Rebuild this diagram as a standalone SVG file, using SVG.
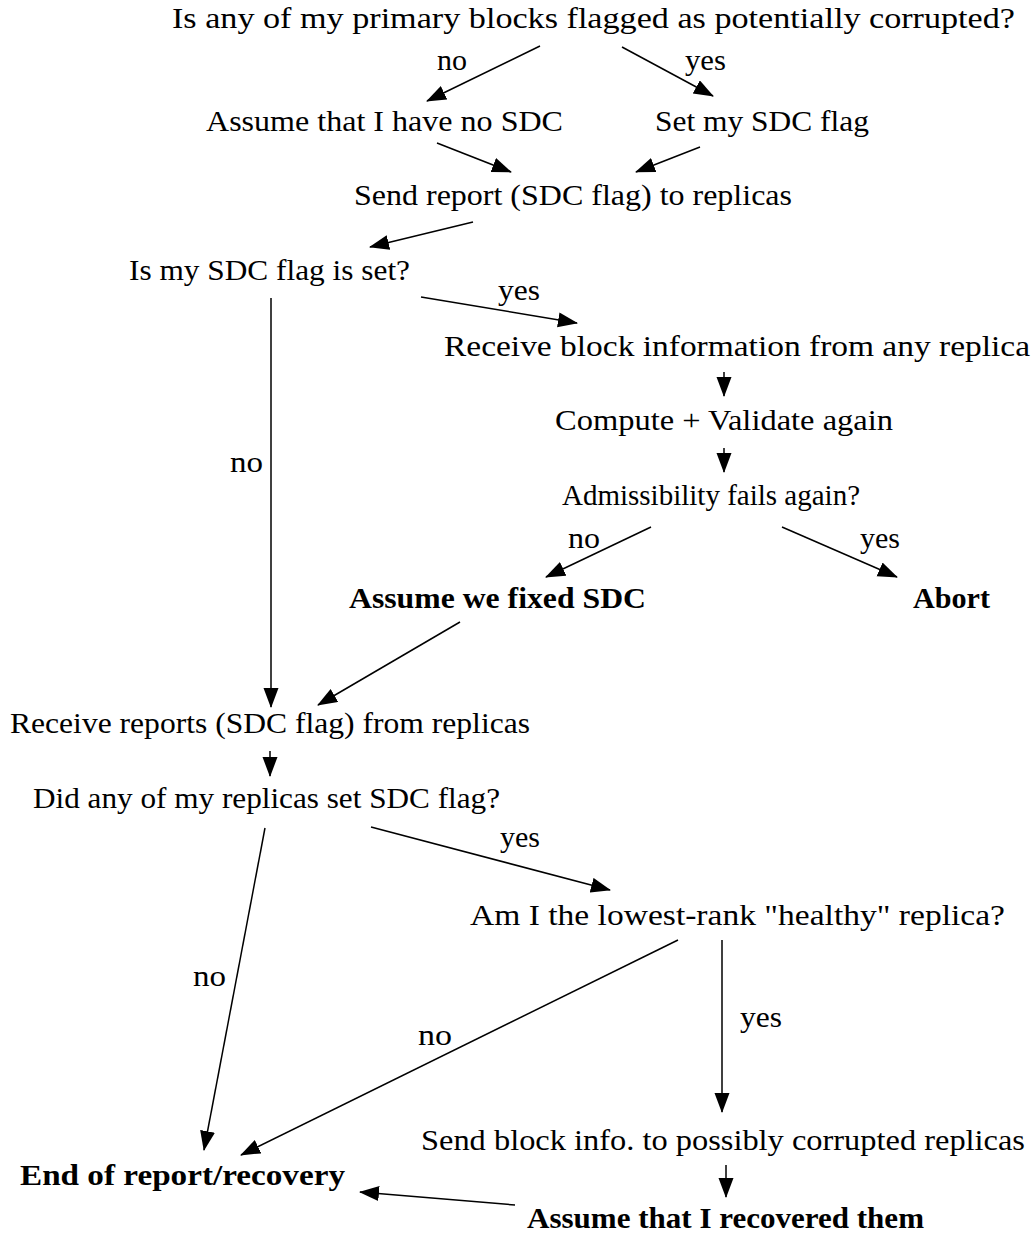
<svg xmlns="http://www.w3.org/2000/svg" width="1032" height="1234" viewBox="0 0 1032 1234">
  <defs>
    <marker id="arrow" markerUnits="userSpaceOnUse" markerWidth="22" markerHeight="16" refX="19" refY="7.5" orient="auto">
      <path d="M0,0 L20,7.5 L0,15 z" fill="#000"/>
    </marker>
    <style>
      text { font-family: "Liberation Serif", "Times New Roman", serif; font-size: 29px; fill: #000; text-anchor: middle; }
      text.b { font-weight: bold; }
      .edges line { stroke: #000; stroke-width: 1.5; fill: none; marker-end: url(#arrow); }
    </style>
  </defs>
  <rect width="1032" height="1234" fill="#fff"/>

  <!-- connectors -->
  <g class="edges" id="edges">
    <line x1="540" y1="46" x2="427" y2="101"/>
    <line x1="622" y1="47" x2="713" y2="96"/>
    <line x1="437" y1="143" x2="511" y2="172"/>
    <line x1="700" y1="147" x2="636" y2="172"/>
    <line x1="473" y1="222" x2="370" y2="247"/>
    <line x1="421" y1="297" x2="577" y2="323"/>
    <line x1="271" y1="298" x2="271" y2="707"/>
    <line x1="724" y1="372" x2="724" y2="396"/>
    <line x1="724" y1="448" x2="724" y2="472"/>
    <line x1="651" y1="527" x2="546" y2="577"/>
    <line x1="782" y1="527" x2="897" y2="577"/>
    <line x1="460" y1="622" x2="318" y2="705"/>
    <line x1="270" y1="751" x2="270" y2="776"/>
    <line x1="371" y1="827" x2="610" y2="890"/>
    <line x1="265" y1="828" x2="204" y2="1150"/>
    <line x1="678" y1="940" x2="241" y2="1155"/>
    <line x1="722" y1="940" x2="722" y2="1112"/>
    <line x1="726" y1="1165" x2="726" y2="1197"/>
    <line x1="515" y1="1205" x2="360" y2="1192"/>
  </g>

  <!-- edge labels -->
  <g id="edge-labels">
    <text x="452" y="70" textLength="30" lengthAdjust="spacingAndGlyphs">no</text>
    <text x="705.5" y="70" textLength="41" lengthAdjust="spacingAndGlyphs">yes</text>
    <text x="519" y="300" textLength="42" lengthAdjust="spacingAndGlyphs">yes</text>
    <text x="246.5" y="472" textLength="33" lengthAdjust="spacingAndGlyphs">no</text>
    <text x="584" y="548" textLength="32" lengthAdjust="spacingAndGlyphs">no</text>
    <text x="880" y="548" textLength="40" lengthAdjust="spacingAndGlyphs">yes</text>
    <text x="520" y="847" textLength="40" lengthAdjust="spacingAndGlyphs">yes</text>
    <text x="209.5" y="986" textLength="33" lengthAdjust="spacingAndGlyphs">no</text>
    <text x="435" y="1045" textLength="34" lengthAdjust="spacingAndGlyphs">no</text>
    <text x="761" y="1027" textLength="42" lengthAdjust="spacingAndGlyphs">yes</text>
  </g>

  <!-- nodes -->
  <g id="n-primary-flagged"><text x="593.5" y="28" textLength="843" lengthAdjust="spacingAndGlyphs">Is any of my primary blocks flagged as potentially corrupted?</text></g>
  <g id="n-assume-no-sdc"><text x="384.5" y="131" textLength="357" lengthAdjust="spacingAndGlyphs">Assume that I have no SDC</text></g>
  <g id="n-set-flag"><text x="762" y="131" textLength="214" lengthAdjust="spacingAndGlyphs">Set my SDC flag</text></g>
  <g id="n-send-report"><text x="573" y="205" textLength="438" lengthAdjust="spacingAndGlyphs">Send report (SDC flag) to replicas</text></g>
  <g id="n-flag-set"><text x="269.5" y="280" textLength="281" lengthAdjust="spacingAndGlyphs">Is my SDC flag is set?</text></g>
  <g id="n-receive-block"><text x="737" y="356" textLength="586" lengthAdjust="spacingAndGlyphs">Receive block information from any replica</text></g>
  <g id="n-compute"><text x="724" y="430" textLength="338" lengthAdjust="spacingAndGlyphs">Compute + Validate again</text></g>
  <g id="n-admissibility"><text x="711" y="505" textLength="298" lengthAdjust="spacingAndGlyphs">Admissibility fails again?</text></g>
  <g id="n-fixed"><text class="b" x="497.5" y="608" textLength="297" lengthAdjust="spacingAndGlyphs">Assume we fixed SDC</text></g>
  <g id="n-abort"><text class="b" x="951.5" y="608" textLength="77" lengthAdjust="spacingAndGlyphs">Abort</text></g>
  <g id="n-receive-reports"><text x="270" y="733" textLength="520" lengthAdjust="spacingAndGlyphs">Receive reports (SDC flag) from replicas</text></g>
  <g id="n-any-replica"><text x="266.5" y="808" textLength="467" lengthAdjust="spacingAndGlyphs">Did any of my replicas set SDC flag?</text></g>
  <g id="n-lowest-rank"><text x="737.5" y="925" textLength="535" lengthAdjust="spacingAndGlyphs">Am I the lowest-rank "healthy" replica?</text></g>
  <g id="n-send-info"><text x="723" y="1150" textLength="604" lengthAdjust="spacingAndGlyphs">Send block info. to possibly corrupted replicas</text></g>
  <g id="n-end"><text class="b" x="182.5" y="1185" textLength="325" lengthAdjust="spacingAndGlyphs">End of report/recovery</text></g>
  <g id="n-recovered"><text class="b" x="725.5" y="1228" textLength="397" lengthAdjust="spacingAndGlyphs">Assume that I recovered them</text></g>
</svg>
